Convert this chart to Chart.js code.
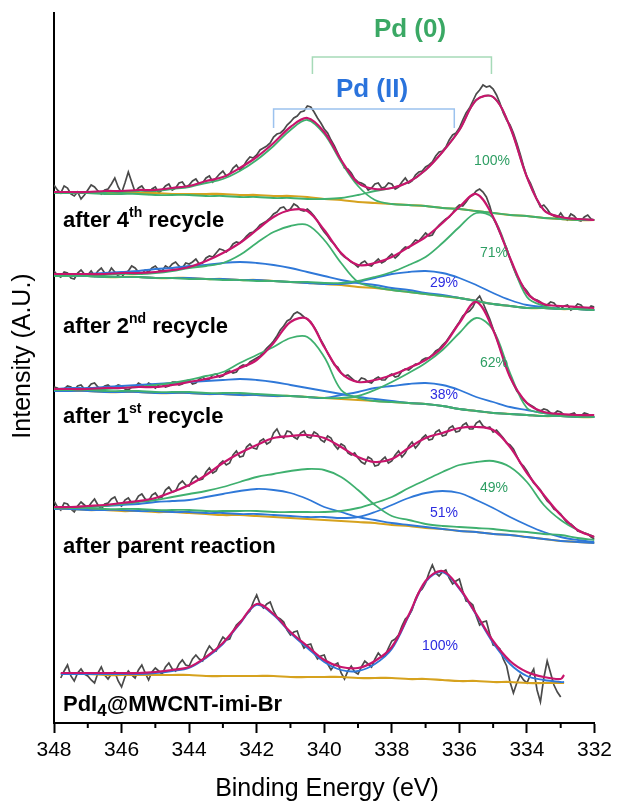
<!DOCTYPE html>
<html>
<head>
<meta charset="utf-8">
<title>Pd 3d XPS after recycles</title>
<script src="https://cdn.jsdelivr.net/npm/chart.js@4.4.1/dist/chart.umd.min.js"></script>
<style>
  html, body { margin: 0; padding: 0; background: #fff; }
  #wrap { width: 617px; height: 803px; }
</style>
</head>
<body>
<div id="wrap"><canvas id="xps" width="617" height="803"></canvas></div>
<script>
// energy grids (eV, high -> low like the plot)
function grid(from, to, step) {
    const out = [];
    const n = Math.round((from - to) / step);
    for (let i = 0; i <= n; i++) out.push(+(from - i * step).toFixed(2));
    return out;
}
const fitE = grid(348, 332, 0.5);
const rawE = grid(348, 332, 0.1);
const fitE5 = [347.8].concat(grid(347.5, 333, 0.5), [332.9]);
const rawE5 = grid(347.8, 333, 0.1);

const energyTicks = [348, 346, 344, 342, 340, 338, 336, 334, 332];
const minorTicks = [347, 345, 343, 341, 339, 337, 335, 333];

// after 4th recycle (stacked intensity, a.u.)
const raw1 = [538,533,530,537,535,529,527,531,524,528,533,538,536,532,529,533,534,539,545,536,
    530,540,551,541,531,535,537,532,529,534,536,530,533,537,539,533,535,540,541,536,
    538,542,544,539,540,545,547,541,545,549,552,547,549,555,558,553,556,562,566,565,
    568,573,575,577,580,586,589,590,593,598,601,605,607,611,612,617,616,611,605,600,
    594,590,583,577,570,563,555,554,550,544,541,540,538,533,535,539,540,535,536,540,
    539,534,536,541,545,540,542,548,551,552,556,558,561,567,571,572,576,583,588,590,
    595,603,610,615,622,629,633,638,636,637,634,628,620,610,603,598,590,580,569,557,
    546,540,532,523,516,518,514,509,507,505,510,505,503,509,507,503,502,506,508,504,
    503];
const env1 = [531,531,531,532,532,533,533,535,537,542,546,555,566,580,596,605,591,563,540,534,535,541,553,571,593,623,626,596,546,513,506,504,503];
const pd0a1 = [530,530,530,531,531,532,532,534,536,540,544,552,563,577,593,603,589,561,537,523,519,518,517,515,514,512,510,508,507,505,504,503,503];
const pd0b1 = [530,530,530,529,529,529,528,528,528,527,527,526,526,525,525,524,524,525,528,532,535,541,553,571,593,623,626,596,546,513,506,504,503];
const bg1 = [530,530,530,530,530,530,530,529,529,529,529,528,528,527,527,526,524,523,521,520,519,518,517,515,514,512,510,508,507,505,504,503,503];

// after 2nd recycle
const raw2 = [452,448,446,451,450,445,444,450,453,449,448,452,447,452,455,450,449,455,451,447,
    446,450,452,457,455,451,449,453,451,455,457,453,452,457,455,459,461,457,455,460,
    459,461,464,459,460,465,467,466,470,474,473,471,474,479,481,480,483,487,490,491,
    494,498,500,502,505,509,511,515,516,512,514,519,517,513,512,514,511,507,502,496,
    491,487,482,479,474,469,466,464,461,459,456,460,462,458,457,461,464,460,462,466,
    469,465,468,473,476,475,479,483,482,486,490,487,488,494,498,501,504,506,510,515,
    518,517,521,526,528,532,534,531,526,517,505,498,490,482,475,464,455,447,441,436,
    432,427,424,423,421,417,418,421,420,416,414,417,418,413,415,419,418,414,413,417,
    416];
const env2 = [449,449,449,449,450,450,451,453,456,462,470,480,493,506,513,512,493,470,458,460,466,476,486,500,516,529,506,465,430,419,417,416,415];
const pd0a2 = [448,448,448,448,449,449,450,452,455,457,460,468,480,491,497,498,483,460,441,436,433,431,429,427,425,422,419,417,415,415,414,414,413];
const pd0b2 = [447,447,447,446,446,446,445,445,444,444,443,443,442,442,441,441,440,440,442,446,451,458,466,480,496,510,505,465,426,417,414,414,413];
const pd2a2 = [448,448,449,450,451,452,454,455,457,458,460,461,460,458,455,451,447,443,440,438,435,433,430,428,425,422,419,417,415,415,414,414,413];
const pd2b2 = [447,447,447,446,446,446,445,445,445,444,444,443,443,442,441,440,439,439,441,445,449,451,452,450,445,438,430,423,418,416,414,414,413];
const bg2 = [447,447,447,446,446,446,445,445,445,444,444,443,443,442,441,440,439,438,436,435,433,431,429,427,425,422,419,417,415,415,414,414,413];

// after 1st recycle
const raw3 = [336,335,332,334,337,336,333,337,338,334,335,339,340,336,334,337,338,335,336,338,
    337,334,333,336,336,340,338,336,340,338,335,338,339,336,337,341,341,338,339,342,
    343,339,340,344,346,343,344,348,349,346,347,351,352,350,351,356,358,357,361,363,
    365,367,371,375,378,382,387,393,397,402,404,409,411,409,406,404,401,396,390,383,
    377,370,364,358,356,350,347,348,345,342,341,345,344,341,340,344,346,343,343,347,
    349,346,347,352,354,353,356,359,359,363,365,365,368,372,374,378,381,386,391,396,
    401,407,410,412,416,423,427,420,412,404,394,385,375,366,356,346,339,332,328,323,
    320,318,316,313,312,314,313,310,309,312,311,308,307,309,310,306,307,310,309,307,
    306];
const env3 = [334,334,334,335,335,336,336,338,341,344,348,355,363,380,401,404,376,350,341,343,348,355,363,376,400,421,393,346,320,311,309,308,308];
const pd0a3 = [333,333,333,334,335,336,338,340,343,347,351,360,368,376,385,386,366,333,325,322,321,320,319,317,314,312,310,309,308,307,307,306,306];
const pd0b3 = [333,333,333,332,332,332,331,331,331,330,330,330,329,328,327,326,325,325,327,333,341,350,360,373,390,405,393,350,315,310,308,307,306];
const pd2a3 = [334,335,335,336,337,338,339,340,341,342,343,344,343,341,338,335,332,329,326,324,322,320,319,317,314,312,310,309,308,307,307,306,306];
const pd2b3 = [332,332,332,331,331,331,330,330,330,329,329,328,328,327,327,326,325,328,331,335,337,339,340,338,333,326,321,316,313,310,308,307,306];
const bg3 = [332,332,332,331,331,331,330,330,330,329,329,328,328,327,327,326,325,324,323,322,321,320,319,317,314,312,310,309,308,307,307,306,306];

// after parent reaction
const raw4 = [222,216,213,220,219,214,211,217,221,218,215,220,224,218,214,219,220,224,226,219,
    217,223,225,220,221,227,229,224,222,228,230,225,226,233,236,231,232,239,242,238,
    237,244,247,243,244,251,255,250,252,259,262,258,260,268,272,266,267,276,279,275,
    274,282,284,279,281,290,294,287,285,292,291,286,284,290,292,286,285,291,289,283,
    281,287,285,278,274,279,277,270,268,270,265,261,259,266,264,257,258,263,266,260,
    262,268,272,266,270,277,281,275,279,285,288,283,284,291,293,287,288,295,297,291,
    292,298,300,294,294,300,302,297,295,296,291,293,289,285,280,278,274,267,260,257,
    252,246,240,237,233,227,222,219,214,212,209,204,200,199,196,192,191,190,189,186,
    184];
const env4 = [216,216,217,218,220,222,225,231,238,248,260,270,278,285,287,288,285,276,266,261,264,275,285,290,295,296,293,276,250,228,208,193,186];
const pd0a4 = [215,215,216,217,219,221,223,226,229,232,236,241,246,249,252,254,253,246,233,218,207,203,199,197,196,195,194,192,191,189,188,185,183];
const pd0b4 = [215,215,215,214,214,214,213,213,213,212,212,212,212,211,211,211,211,212,215,220,226,235,243,251,258,261,262,256,241,218,203,193,186];
const pd2a4 = [215,215,216,217,218,219,221,222,223,226,229,232,234,233,230,224,216,211,206,203,200,198,196,194,192,191,189,188,186,184,182,181,180];
const pd2b4 = [214,214,213,213,213,212,212,211,211,210,210,209,209,208,207,206,206,205,206,211,218,225,230,232,230,223,215,206,198,191,186,183,181];
const bg4 = [214,214,213,213,212,212,211,211,210,209,208,208,207,206,205,204,203,202,201,200,198,197,195,194,192,191,189,188,186,184,182,181,180];

// PdI4@MWCNT-imi-Br
const raw5 = [45,52,58,47,42,50,54,49,47,43,40,50,56,48,44,49,51,42,36,46,
    52,48,45,53,58,50,43,51,55,52,49,56,60,54,52,59,63,58,57,64,
    68,64,62,71,77,73,72,80,86,83,84,92,98,101,104,109,112,121,128,119,
    115,119,121,112,106,104,101,93,88,91,92,82,75,78,79,70,64,67,68,59,
    53,58,60,50,44,52,57,51,49,56,62,59,56,64,70,66,67,75,82,84,
    88,97,104,107,113,124,131,134,140,150,158,150,147,151,153,145,139,142,144,132,
    122,121,118,107,98,101,102,89,78,77,74,64,57,41,30,40,48,43,40,48,
    54,33,21,45,62,50,38,31,26];
const env5 = [50,50,50,50,50,50,51,53,56,66,80,100,119,109,91,77,63,56,55,62,76,108,142,152,135,109,82,62,51,46,44,48];
const pd2_5 = [49,49,49,49,49,49,50,52,55,65,79,99,118,108,90,75,61,53,52,59,74,107,141,151,134,108,80,59,47,43,41,41];
const bg5 = [49,49,49,48,48,48,48,48,48,47,47,47,47,47,46,46,46,46,45,45,45,44,44,43,42,42,41,41,40,40,40,40];

const C_RAW = '#4a4a4a', C_FIT = '#c8156c', C_PD0 = '#3fb06f', C_PD2 = '#2f78d8', C_BG = '#d6a21e';
const FONT = '"Liberation Sans", Arial, sans-serif';

function line(xs, ys, color, width, order, smooth) {
    return {
        data: ys.map((y, i) => ({ x: xs[i], y: y })),
        borderColor: color,
        borderWidth: width,
        pointRadius: 0,
        fill: false,
        order: order,
        tension: smooth ? 0.35 : 0
    };
}

const datasets = [
    line(rawE, raw1, C_RAW, 1.7, 5), line(fitE, bg1, C_BG, 2.2, 4, true),
    line(fitE, pd0a1, C_PD0, 1.8, 2, true), line(fitE, pd0b1, C_PD0, 1.8, 2, true), line(fitE, env1, C_FIT, 2.2, 1, true),

    line(rawE, raw2, C_RAW, 1.7, 5), line(fitE, bg2, C_BG, 2.2, 4, true),
    line(fitE, pd2a2, C_PD2, 1.8, 3, true), line(fitE, pd2b2, C_PD2, 1.8, 3, true),
    line(fitE, pd0a2, C_PD0, 1.8, 2, true), line(fitE, pd0b2, C_PD0, 1.8, 2, true), line(fitE, env2, C_FIT, 2.2, 1, true),

    line(rawE, raw3, C_RAW, 1.7, 5), line(fitE, bg3, C_BG, 2.2, 4, true),
    line(fitE, pd2a3, C_PD2, 1.8, 3, true), line(fitE, pd2b3, C_PD2, 1.8, 3, true),
    line(fitE, pd0a3, C_PD0, 1.8, 2, true), line(fitE, pd0b3, C_PD0, 1.8, 2, true), line(fitE, env3, C_FIT, 2.2, 1, true),

    line(rawE, raw4, C_RAW, 1.7, 5), line(fitE, bg4, C_BG, 2.2, 4, true),
    line(fitE, pd2a4, C_PD2, 1.8, 3, true), line(fitE, pd2b4, C_PD2, 1.8, 3, true),
    line(fitE, pd0a4, C_PD0, 1.8, 2, true), line(fitE, pd0b4, C_PD0, 1.8, 2, true), line(fitE, env4, C_FIT, 2.2, 1, true),

    line(rawE5, raw5, C_RAW, 1.7, 5), line(fitE5, bg5, C_BG, 2.2, 4, true),
    line(fitE5, pd2_5, C_PD2, 1.8, 3, true), line(fitE5, env5, C_FIT, 2.2, 1, true)
];

// labels drawn on top of the plot
function richText(ctx, x, y, parts, size) {
    parts.forEach(([txt, kind]) => {
        let fs = size, dy = 0;
        if (kind === 'sup') { fs = Math.round(size * 0.62); dy = -size * 0.34; }
        if (kind === 'sub') { fs = Math.round(size * 0.78); dy = size * 0.3; }
        ctx.font = 'bold ' + fs + 'px ' + FONT;
        ctx.fillText(txt, x, y + dy);
        x += ctx.measureText(txt).width;
    });
}

const annotations = {
    id: 'annotations',
    afterDraw(chart) {
        const ctx = chart.ctx;
        const xs = chart.scales.x;
        ctx.save();

        // minor ticks
        ctx.strokeStyle = '#000';
        ctx.lineWidth = 2;
        minorTicks.forEach(v => {
            const px = xs.getPixelForValue(v);
            ctx.beginPath();
            ctx.moveTo(px, xs.top);
            ctx.lineTo(px, xs.top + 5);
            ctx.stroke();
        });

        // axis titles
        ctx.fillStyle = '#000';
        ctx.font = '25px ' + FONT;
        ctx.textAlign = 'center';
        ctx.textBaseline = 'middle';
        ctx.fillText('Binding Energy (eV)', 327, 789);
        ctx.save();
        ctx.translate(23, 356);
        ctx.rotate(-Math.PI / 2);
        ctx.fillText('Intensity (A.U.)', 0, 0);
        ctx.restore();

        // Pd(0) / Pd(II) brackets
        function bracket(e1, e2, y, drop, color) {
            const a = xs.getPixelForValue(e1), b = xs.getPixelForValue(e2);
            ctx.strokeStyle = color;
            ctx.lineWidth = 1.5;
            ctx.beginPath();
            ctx.moveTo(a, y + drop); ctx.lineTo(a, y); ctx.lineTo(b, y); ctx.lineTo(b, y + drop);
            ctx.stroke();
        }
        bracket(340.35, 335.05, 57, 17, '#a6dab8');
        bracket(341.5, 336.15, 109, 19, '#9cc2ee');
        ctx.font = 'bold 26px ' + FONT;
        ctx.fillStyle = '#3aa864';
        ctx.fillText('Pd (0)', 410, 30);
        ctx.fillStyle = '#2a73dc';
        ctx.fillText('Pd (II)', 372, 90);

        // percentages
        ctx.font = '14px ' + FONT;
        [['100%', 492, 161, '#2e9e63'], ['71%', 494, 253, '#2e9e63'], ['29%', 444, 283, '#2c2ce0'],
         ['62%', 494, 363, '#2e9e63'], ['38%', 444, 395, '#2c2ce0'], ['49%', 494, 488, '#2e9e63'],
         ['51%', 444, 513, '#2c2ce0'], ['100%', 440, 646, '#2c2ce0']].forEach(([t, x, y, c]) => {
            ctx.fillStyle = c;
            ctx.fillText(t, x, y);
        });

        // sample labels
        ctx.fillStyle = '#000';
        ctx.textAlign = 'left';
        richText(ctx, 63, 221, [['after 4', ''], ['th', 'sup'], [' recycle', '']], 22);
        richText(ctx, 63, 327, [['after 2', ''], ['nd', 'sup'], [' recycle', '']], 22);
        richText(ctx, 63, 417, [['after 1', ''], ['st', 'sup'], [' recycle', '']], 22);
        richText(ctx, 63, 547, [['after parent reaction', '']], 22);
        richText(ctx, 63, 705, [['PdI', ''], ['4', 'sub'], ['@MWCNT-imi-Br', '']], 22);
        ctx.restore();
    }
};

new Chart(document.getElementById('xps'), {
    type: 'line',
    data: { datasets: datasets },
    options: {
        responsive: false,
        animation: false,
        events: [],
        layout: { padding: { top: 13, right: 21, left: 0, bottom: 0 } },
        plugins: { legend: { display: false }, tooltip: { enabled: false } },
        scales: {
            x: {
                type: 'linear',
                reverse: true,
                min: 332,
                max: 348,
                afterBuildTicks: s => { s.ticks = energyTicks.map(v => ({ value: v })); },
                ticks: { color: '#000', font: { size: 21, family: FONT }, padding: 5, maxRotation: 0, autoSkip: false },
                grid: { drawOnChartArea: false, drawTicks: true, tickLength: 10, tickColor: '#000', tickWidth: 2 },
                border: { color: '#000', width: 2 },
                afterFit: s => { s.height = 80; }
            },
            y: {
                min: 0,
                max: 710,
                ticks: { display: false },
                grid: { display: false },
                border: { display: true, color: '#000', width: 2 },
                afterFit: s => { s.width = 54; }
            }
        }
    },
    plugins: [annotations]
});
</script>
</body>
</html>
